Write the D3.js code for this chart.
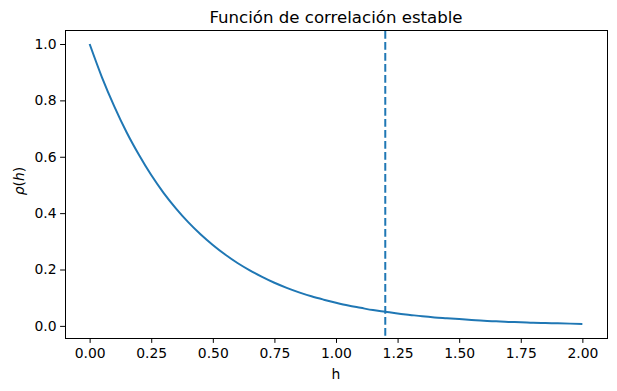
<!DOCTYPE html>
<html>
<head>
    <meta charset="utf-8">
    <title>Función de correlación estable</title>
    <style>
        body { margin: 0; background: #fff; }
        svg { display: block; font-family: "DejaVu Sans", sans-serif; }
        .axis path, .axis line { stroke: #000; stroke-width: 1; }
    </style>
    <script src="https://d3js.org/d3.v7.min.js"></script>
</head>
<body>
<script>
  // lag values and correlation
  var lags = [0.00, 0.05, 0.10, 0.15, 0.20, 0.25, 0.30, 0.35, 0.40, 0.45,
              0.50, 0.55, 0.60, 0.65, 0.70, 0.75, 0.80, 0.85, 0.90, 0.95,
              1.00, 1.05, 1.10, 1.15, 1.20, 1.25, 1.30, 1.35, 1.40, 1.45,
              1.50, 1.55, 1.60, 1.65, 1.70, 1.75, 1.80, 1.85, 1.90, 1.95, 2.00];
  var rho = [1.000, 0.882, 0.779, 0.687, 0.607, 0.535, 0.472, 0.417, 0.368, 0.325,
             0.287, 0.253, 0.223, 0.197, 0.174, 0.153, 0.135, 0.119, 0.105, 0.093,
             0.082, 0.072, 0.064, 0.056, 0.050, 0.044, 0.039, 0.034, 0.030, 0.027,
             0.024, 0.021, 0.018, 0.016, 0.014, 0.013, 0.011, 0.010, 0.009, 0.008, 0.007];
  var practicalRange = 1.2;
  var xTicks = [0, 0.25, 0.5, 0.75, 1.0, 1.25, 1.5, 1.75, 2.0];
  var yTicks = [0, 0.2, 0.4, 0.6, 0.8, 1.0];

  var w = 617, h = 391;
  // integer edges; d3 axes add the half-pixel offset themselves
  var mLeft = 65, mRight = 607, mTop = 30, mBottom = 338;

  var x = d3.scaleLinear().domain([-0.1, 2.1]).range([mLeft, mRight]);
  var y = d3.scaleLinear().domain([-0.043, 1.0497]).range([mBottom, mTop]);

  var svg = d3.select("body").append("svg")
              .attr("width", w).attr("height", h);

  var data = lags.map(function (d, i) { return [d, rho[i]]; });

  svg.append("path")
     .datum(data)
     .attr("fill", "none")
     .attr("stroke", "#1f77b4")
     .attr("stroke-width", 2)
     .attr("d", d3.line()
                  .x(function (d) { return x(d[0]); })
                  .y(function (d) { return y(d[1]); })
                  .curve(d3.curveMonotoneX));

  svg.append("line")
     .attr("x1", x(practicalRange)).attr("x2", x(practicalRange))
     .attr("y1", mTop + 1).attr("y2", mBottom)
     .attr("stroke", "#1f77b4")
     .attr("stroke-width", 2)
     .attr("stroke-dasharray", "7.7,3.3");

  svg.append("g").attr("class", "axis")
     .attr("transform", "translate(0," + mBottom + ")")
     .call(d3.axisBottom(x).tickValues(xTicks).tickFormat(d3.format(".2f"))
             .tickSize(4.9).tickSizeOuter(0).tickPadding(5.5))
     .attr("font-size", 13.9).attr("font-family", null);

  svg.append("g").attr("class", "axis")
     .attr("transform", "translate(" + mLeft + ",0)")
     .call(d3.axisLeft(y).tickValues(yTicks).tickFormat(d3.format(".1f"))
             .tickSize(4.9).tickSizeOuter(0).tickPadding(3.5))
     .attr("font-size", 13.9).attr("font-family", null);

  // frame
  svg.append("rect")
     .attr("x", mLeft + 0.5).attr("y", mTop + 0.5)
     .attr("width", mRight - mLeft).attr("height", mBottom - mTop)
     .attr("fill", "none").attr("stroke", "#000").attr("stroke-width", 1);

  svg.append("text")
     .attr("x", (mLeft + mRight) / 2).attr("y", 22.5)
     .attr("text-anchor", "middle")
     .attr("font-size", 16.6)
     .text("Función de correlación estable");

  svg.append("text")
     .attr("x", (mLeft + mRight) / 2).attr("y", 379)
     .attr("text-anchor", "middle")
     .attr("font-size", 13.9)
     .text("h");

  var yl = svg.append("text")
     .attr("transform", "translate(24,181) rotate(-90)")
     .attr("text-anchor", "middle")
     .attr("font-size", 13.9);
  yl.append("tspan").attr("font-style", "italic").text("ρ");
  yl.append("tspan").text("(");
  yl.append("tspan").attr("font-style", "italic").text("h");
  yl.append("tspan").text(")");
</script>
</body>
</html>
